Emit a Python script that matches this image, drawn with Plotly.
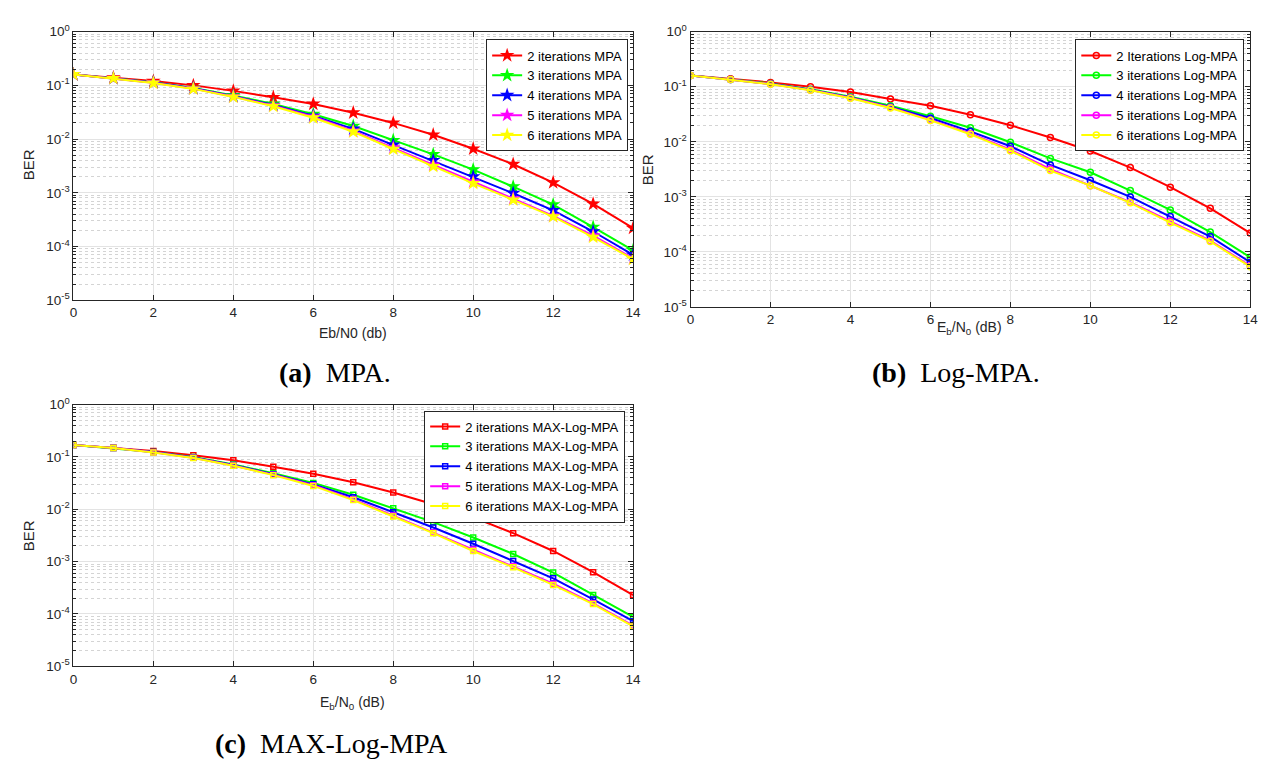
import plotly.graph_objects as go

W, H = 1275, 763

ebn0 = list(range(0, 15))

# Panel (a) MPA
mpa_2 = [0.16, 0.14, 0.12, 0.10, 0.079, 0.060, 0.045, 0.031, 0.020, 0.012, 0.0066, 0.0034, 0.00155, 0.00062, 0.00022]
mpa_3 = [0.16, 0.135, 0.114, 0.089, 0.065, 0.045, 0.029, 0.0175, 0.0095, 0.0052, 0.0027, 0.0013, 0.0006, 0.00023, 0.000085]
mpa_4 = [0.16, 0.135, 0.113, 0.088, 0.063, 0.043, 0.027, 0.0155, 0.0078, 0.0040, 0.0020, 0.00098, 0.00047, 0.00019, 0.000070]
mpa_5 = [0.16, 0.135, 0.112, 0.087, 0.062, 0.042, 0.026, 0.0142, 0.0069, 0.0033, 0.0016, 0.00078, 0.00037, 0.00016, 0.000060]
mpa_6 = [0.16, 0.135, 0.111, 0.086, 0.061, 0.041, 0.025, 0.0137, 0.0065, 0.0031, 0.0015, 0.00074, 0.00036, 0.00015, 0.000058]

# Panel (b) Log-MPA
log_2 = [0.16, 0.14, 0.12, 0.10, 0.080, 0.060, 0.045, 0.031, 0.020, 0.012, 0.0068, 0.0034, 0.0015, 0.00062, 0.00022]
log_3 = [0.16, 0.135, 0.115, 0.090, 0.066, 0.045, 0.029, 0.018, 0.0098, 0.0050, 0.0028, 0.0013, 0.00058, 0.00023, 0.000080]
log_4 = [0.16, 0.135, 0.113, 0.088, 0.064, 0.043, 0.027, 0.0155, 0.0083, 0.0038, 0.0020, 0.0010, 0.00044, 0.00019, 0.000065]
log_5 = [0.16, 0.135, 0.112, 0.087, 0.063, 0.042, 0.025, 0.0142, 0.0072, 0.0032, 0.0016, 0.00080, 0.00036, 0.00016, 0.000056]
log_6 = [0.16, 0.135, 0.111, 0.086, 0.062, 0.041, 0.0245, 0.0137, 0.0069, 0.0030, 0.0016, 0.00078, 0.00034, 0.000155, 0.000054]

# Panel (c) MAX-Log-MPA
max_2 = [0.17, 0.15, 0.13, 0.108, 0.087, 0.065, 0.048, 0.033, 0.021, 0.0125, 0.0070, 0.0035, 0.0016, 0.00063, 0.00023]
max_3 = [0.17, 0.148, 0.125, 0.100, 0.072, 0.049, 0.032, 0.019, 0.0105, 0.0057, 0.0029, 0.0014, 0.00062, 0.00023, 0.000088]
max_4 = [0.17, 0.148, 0.124, 0.098, 0.070, 0.047, 0.030, 0.017, 0.0088, 0.0045, 0.0022, 0.00103, 0.00048, 0.00019, 0.000073]
max_5 = [0.17, 0.148, 0.123, 0.097, 0.069, 0.046, 0.029, 0.0155, 0.0076, 0.0036, 0.0017, 0.00082, 0.00038, 0.00016, 0.000060]
max_6 = [0.17, 0.148, 0.122, 0.096, 0.068, 0.045, 0.028, 0.015, 0.0073, 0.0035, 0.0016, 0.00078, 0.00036, 0.000155, 0.000058]

colors = ["#ff0000", "#00ff00", "#0000ff", "#ff00ff", "#ffff00"]
iters = [2, 3, 4, 5, 6]

x_ticks = [0, 2, 4, 6, 8, 10, 12, 14]
y_ticks = [1e-5, 1e-4, 1e-3, 1e-2, 1e-1, 1]
y_ticktext = ["10<sup>-5</sup>", "10<sup>-4</sup>", "10<sup>-3</sup>", "10<sup>-2</sup>", "10<sup>-1</sup>", "10<sup>0</sup>"]
minor_vals = [k * 10 ** e for e in range(-5, 0) for k in range(2, 10)]

FONT = "Liberation Sans, Arial, Helvetica, sans-serif"
SERIF = "Liberation Serif, Times New Roman, serif"
AX = "#262626"

def px_x(p):
    return p / W

def px_y(p):
    return 1 - p / H

panels = [
    dict(series=[mpa_2, mpa_3, mpa_4, mpa_5, mpa_6],
         names=["%d iterations MPA" % i for i in iters],
         symbol="star", msize=11, mline=0,
         x0=62, x1=627, y0=14, y1=289, lx=622, ly=22,
         legend="legend", xa="x", ya="y"),
    dict(series=[log_2, log_3, log_4, log_5, log_6],
         names=["2 Iterations Log-MPA"] + ["%d iterations Log-MPA" % i for i in iters[1:]],
         symbol="circle-open", msize=6, mline=1.5,
         x0=685, x1=1250, y0=14, y1=296, lx=1244, ly=22,
         legend="legend2", xa="x2", ya="y2"),
    dict(series=[max_2, max_3, max_4, max_5, max_6],
         names=["%d iterations MAX-Log-MPA" % i for i in iters],
         symbol="square-open", msize=5, mline=1.5,
         x0=62, x1=627, y0=396, y1=664, lx=619, ly=402,
         legend="legend3", xa="x3", ya="y3"),
]

fig = go.Figure()

for p in panels:
    for s, name, c in zip(p["series"], p["names"], colors):
        mk = dict(symbol=p["symbol"], size=p["msize"], color=c)
        if p["mline"]:
            mk["line"] = dict(color=c, width=p["mline"])
        fig.add_trace(go.Scatter(
            x=ebn0, y=s, name=name, mode="lines+markers",
            line=dict(color=c, width=2), marker=mk,
            xaxis=p["xa"], yaxis=p["ya"], legend=p["legend"],
        ))

layout = dict(
    width=W, height=H,
    margin=dict(l=0, r=0, t=0, b=0),
    paper_bgcolor="white", plot_bgcolor="white",
    font=dict(family=FONT, size=13, color=AX),
    showlegend=True,
)

for i, p in enumerate(panels):
    sfx = "" if i == 0 else str(i + 1)
    layout["xaxis" + sfx] = dict(
        domain=[px_x(p["x0"]), px_x(p["x1"])],
        anchor="y" + sfx, range=[0, 14],
        tickvals=x_ticks, ticks="inside", ticklen=5, tickcolor=AX,
        showline=True, linecolor=AX, linewidth=1, mirror="allticks",
        showgrid=True, gridcolor="#e3e3e3", gridwidth=1, zeroline=False,
        tickfont=dict(size=13.5, color=AX),
    )
    layout["yaxis" + sfx] = dict(
        domain=[px_y(p["y1"]), px_y(p["y0"])],
        anchor="x" + sfx, type="log", range=[-5, 0],
        tickvals=y_ticks, ticktext=y_ticktext,
        ticks="inside", ticklen=5, tickcolor=AX,
        showline=True, linecolor=AX, linewidth=1, mirror="allticks",
        showgrid=True, gridcolor="#e3e3e3", gridwidth=1, zeroline=False,
        tickfont=dict(size=13.5, color=AX),
        minor=dict(tickvals=minor_vals, ticks="inside", ticklen=3, tickcolor=AX,
                   showgrid=True, gridcolor="#d4d4d4", griddash="dot", gridwidth=1),
    )
    layout[p["legend"]] = dict(
        x=px_x(p["lx"]), xanchor="right",
        y=px_y(p["ly"]), yanchor="top",
        bgcolor="white", bordercolor=AX, borderwidth=1,
        font=dict(size=13, color="#000000", family=FONT),
        tracegroupgap=0, itemwidth=30,
    )

fig.update_layout(**layout)

def ann(text, x, y, size=14, family=FONT, angle=0, color=AX):
    fig.add_annotation(text=text, x=px_x(x), y=px_y(y), xref="paper", yref="paper",
                       showarrow=False, xanchor="center", yanchor="middle",
                       font=dict(size=size, family=family, color=color), textangle=angle)

# axis titles
ann("Eb/N0 (db)", 344, 323)
ann("E<sub>b</sub>/N<sub>0</sub> (dB)", 967, 318)
ann("E<sub>b</sub>/N<sub>0</sub> (dB)", 344, 702)
ann("BER", 17, 150, size=15, angle=-90)
ann("BER", 641, 155, size=15, angle=-90)
ann("BER", 17, 530, size=15, angle=-90)

# captions
NB = "\u00a0\u00a0"
ann("<b>(a)</b>" + NB + "MPA.", 326, 363, size=28, family=SERIF, color="#000000")
ann("<b>(b)</b>" + NB + "Log-MPA.", 953, 363, size=28, family=SERIF, color="#000000")
ann("<b>(c)</b>" + NB + "MAX-Log-MPA", 323, 743, size=28, family=SERIF, color="#000000")

fig.write_html("out.html")
